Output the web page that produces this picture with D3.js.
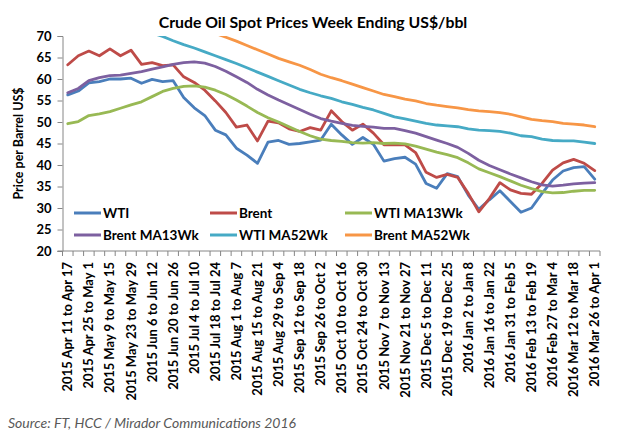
<!DOCTYPE html>
<html><head><meta charset="utf-8">
<script src="https://cdn.jsdelivr.net/npm/d3@7"></script>
<style>
html,body{margin:0;padding:0;background:#fff;}
svg{display:block;font-family:Lato,"Open Sans",sans-serif;}
</style></head>
<body>
<svg id="chart" width="627" height="435"></svg>
<script>
// ---- data ----
const tickLabels = [
  "2015 Apr 11 to Apr 17","2015 Apr 25 to May 1","2015 May 9 to May 15","2015 May 23 to May 29",
  "2015 Jun 6 to Jun 12","2015 Jun 20 to Jun 26","2015 Jul 4 to Jul 10","2015 Jul 18 to Jul 24",
  "2015 Aug 1 to Aug 7","2015 Aug 15 to Aug 21","2015 Aug 29 to Sep 4","2015 Sep 12 to Sep 18",
  "2015 Sep 26 to Oct 2","2015 Oct 10 to Oct 16","2015 Oct 24 to Oct 30","2015 Nov 7 to Nov 13",
  "2015 Nov 21 to Nov 27","2015 Dec 5 to Dec 11","2015 Dec 19 to Dec 25","2016 Jan 2 to Jan 8",
  "2016 Jan 16 to Jan 22","2016 Jan 31 to Feb 5","2016 Feb 13 to Feb 19","2016 Feb 27 to Mar 4",
  "2016 Mar 12 to Mar 18","2016 Mar 26 to Apr 1"
];
const weekCount = 51;
const yTicks = [20,25,30,35,40,45,50,55,60,65,70];

const wti = [56.3,57.2,59.1,59.4,60.0,60.0,60.2,59.0,59.9,59.4,
  59.6,55.7,53.3,51.5,48.1,47.0,43.9,42.3,40.4,45.3,
  45.7,44.8,45.0,45.4,45.8,49.5,47.0,44.8,46.4,44.8,
  40.9,41.5,41.8,40.2,35.7,34.6,38.0,37.3,33.0,29.7,
  31.9,34.0,31.5,29.0,30.0,33.4,36.5,38.6,39.4,39.6,36.7];
const brent = [63.3,65.4,66.5,65.4,67.0,65.4,66.7,63.4,63.8,63.1,
  63.3,60.5,59.2,57.4,54.9,52.2,48.8,49.3,45.6,50.2,
  49.8,48.4,47.8,48.7,48.1,52.6,50.1,48.1,49.5,47.4,
  44.7,44.7,44.7,42.9,38.3,37.1,37.8,37.1,33.4,29.1,
  32.2,35.9,34.2,33.4,33.2,35.7,38.8,40.5,41.3,40.4,38.7];
const wtiMA13 = [49.6,50.1,51.5,51.9,52.4,53.2,54.0,54.7,55.9,57.1,
  57.8,58.3,58.4,58.1,57.4,56.4,55.1,53.7,52.2,51.0,
  50.0,48.9,47.8,46.8,46.0,45.7,45.5,45.2,45.1,45.2,
  45.0,45.1,44.9,44.4,43.7,43.0,42.4,41.7,40.5,39.1,
  38.2,37.3,36.3,35.3,34.5,33.8,33.5,33.6,33.9,34.1,34.1];
const brentMA13 = [56.8,57.8,59.6,60.3,60.8,60.9,61.3,61.7,62.3,62.8,
  63.4,63.8,64.0,63.7,62.9,61.8,60.5,59.2,57.6,56.3,
  55.1,54.0,52.9,51.8,50.8,50.2,49.7,49.2,49.0,48.8,
  48.5,48.5,48.0,47.4,46.6,45.8,45.0,44.1,42.7,41.1,
  39.9,38.9,37.9,37.0,36.1,35.4,35.1,35.3,35.6,35.8,35.9];
const wtiMA52 = [78.9,77.9,76.8,75.8,74.7,73.7,72.7,71.7,70.7,69.9,
  68.9,68.0,67.2,66.3,65.4,64.5,63.6,62.6,61.6,60.6,
  59.6,58.6,57.6,56.8,56.1,55.5,54.7,54.1,53.4,52.8,
  52.0,51.2,50.7,50.2,49.7,49.3,49.1,48.9,48.4,48.1,
  48.0,47.8,47.4,46.8,46.6,46.0,45.7,45.6,45.6,45.3,45.0];
const brentMA52 = [84.6,83.6,82.6,81.6,80.6,79.6,78.6,77.6,76.6,75.6,
  74.6,73.6,72.6,71.6,70.6,69.7,68.8,67.8,66.8,65.8,
  64.8,64.0,63.2,62.2,61.1,60.3,59.6,58.8,58.0,57.2,
  56.4,55.9,55.3,54.9,54.3,53.9,53.6,53.3,52.9,52.6,
  52.4,52.2,51.8,51.2,50.6,50.3,50.1,49.7,49.5,49.3,48.9];

const seriesNames = ["WTI","Brent","WTI MA13Wk","Brent MA13Wk","WTI MA52Wk","Brent MA52Wk"];
const seriesData = [wti, brent, wtiMA13, brentMA13, wtiMA52, brentMA52];
const seriesColors = ["#4A7EBB","#BE4B48","#98B954","#7D60A0","#46AAC5","#F79646"];

// ---- layout ----
const svg = d3.select("#chart");
const L = 62.5, R = 600, T = 36, B = 251;
const idx = d3.range(weekCount);
const x = d3.scaleBand().domain(idx).range([L, R]).padding(0);
const y = d3.scaleLinear().domain([20, 70]).range([B, T]);
const cx = i => x(i) + x.bandwidth() / 2;
const axisColor = "#868686";

svg.append("defs").append("clipPath").attr("id","plotclip")
  .append("rect").attr("x", L).attr("y", T).attr("width", R - L).attr("height", B - T);

// title
svg.append("text").attr("x", 313).attr("y", 28).attr("text-anchor","middle")
  .attr("font-weight","bold").attr("font-size", 15.8).attr("fill","#000")
  .text("Crude Oil Spot Prices Week Ending US$/bbl");

// y axis
const yAxis = d3.axisLeft(y).tickValues(yTicks).tickSize(5).tickPadding(6);
const gy = svg.append("g").attr("transform", `translate(${L},0)`).call(yAxis);
gy.select(".domain").attr("stroke", axisColor);
gy.selectAll(".tick line").attr("stroke", axisColor);
gy.selectAll(".tick text").attr("font-family","Lato,sans-serif").attr("font-weight","bold")
  .attr("font-size", 13).attr("fill","#000");

// y title
svg.append("text").attr("transform", `translate(23,${(T+B)/2}) rotate(-90)`)
  .attr("text-anchor","middle").attr("font-weight","bold").attr("font-size", 12.5)
  .attr("fill","#000").text("Price per Barrel US$");

// x axis
const gx = svg.append("g");
gx.append("line").attr("x1", L - 5).attr("x2", R).attr("y1", y(20)).attr("y2", y(20))
  .attr("stroke", axisColor);
const edges = idx.map(i => x(i)).concat([x(weekCount - 1) + x.bandwidth()]);
gx.selectAll("line.tk").data(edges).enter().append("line").attr("class","tk")
  .attr("x1", d => d).attr("x2", d => d).attr("y1", y(20)).attr("y2", y(20) + 5)
  .attr("stroke", axisColor);
gx.selectAll("text").data(idx.filter(i => i % 2 === 0)).enter().append("text")
  .attr("transform", i => `translate(${cx(i)},${y(20) + 11}) rotate(-90)`)
  .attr("text-anchor","end").attr("dy","0.35em")
  .attr("font-weight","bold").attr("font-size", 13).attr("fill","#000")
  .text(i => tickLabels[i / 2]);

// lines
const line = d3.line().x((d, i) => cx(i)).y(d => y(d));
const gl = svg.append("g").attr("clip-path","url(#plotclip)");
seriesData.forEach((s, k) => {
  gl.append("path").datum(s).attr("d", line).attr("fill","none")
    .attr("stroke", seriesColors[k]).attr("stroke-width", 2.8)
    .attr("stroke-linejoin","round").attr("stroke-linecap","round");
});

// legend (inside plot, bottom)
const legCols = [74, 210, 345];
const legRows = [213, 235];
seriesNames.forEach((name, n) => {
  const lx = legCols[n % 3], ly = legRows[Math.floor(n / 3)];
  svg.append("line").attr("x1", lx).attr("x2", lx + 27).attr("y1", ly).attr("y2", ly)
    .attr("stroke", seriesColors[n]).attr("stroke-width", 3);
  svg.append("text").attr("x", lx + 29).attr("y", ly).attr("dy","0.36em")
    .attr("font-weight","bold").attr("font-size", 13.5).attr("fill","#000")
    .text(name);
});

// source
svg.append("text").attr("x", 8).attr("y", 428).attr("font-style","italic")
  .attr("font-size", 14).attr("fill","#595959")
  .text("Source: FT, HCC / Mirador Communications 2016");
</script>
</body></html>
